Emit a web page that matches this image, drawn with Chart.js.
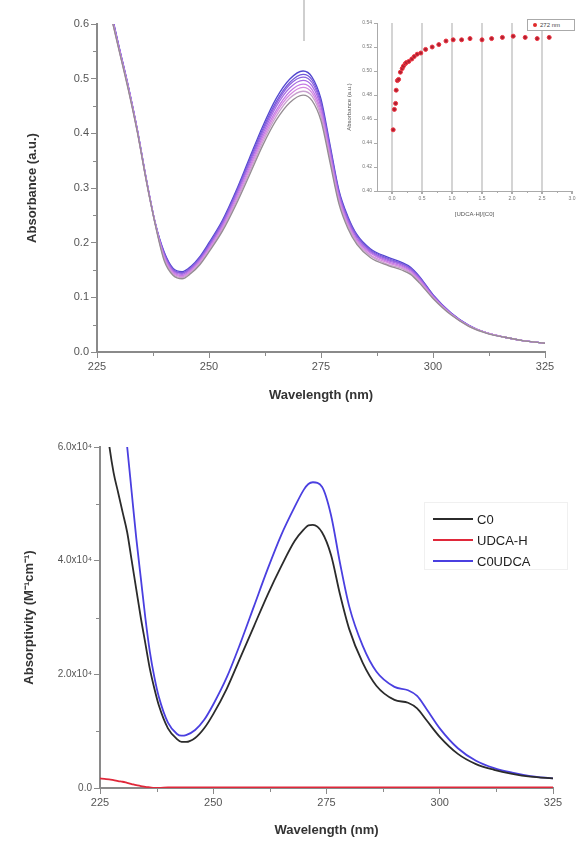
<!DOCTYPE html>
<html><head><meta charset="utf-8">
<script src="https://cdn.jsdelivr.net/npm/chart.js@4"></script>
<style>
body{margin:0;background:#fff;width:578px;height:842px;position:relative;overflow:hidden;font-family:"Liberation Sans",Arial,sans-serif}
.abs{position:absolute}
</style></head>
<body>
<div class="abs" style="left:303px;top:0;width:2px;height:41px;background:#cfcfcf"></div>
<canvas id="top" class="abs" style="left:0;top:0" width="578" height="410"></canvas>
<canvas id="inset" class="abs" style="left:330px;top:0" width="248" height="225"></canvas>
<div class="abs" style="left:527px;top:19px;width:46px;height:10px;border:1px solid #aaa;background:#fff;font-size:6px;line-height:10px;color:#444">
  <span style="display:inline-block;width:4px;height:4px;border-radius:50%;background:#e02a2a;margin:0 3px 0 5px;vertical-align:middle"></span>272 nm
</div>
<canvas id="bottom" class="abs" style="left:0;top:420px" width="578" height="422"></canvas>
<div id="legend" class="abs" style="left:424px;top:502px;width:142px;height:66px;border:1px solid #f0f0f0"></div>
<script>
// ---------- Top chart: titration spectra ----------
const wavelengthTop = [227,228,229,230,232,234,236,238,240,242,244,246,248,250,253,256,259,262,265,268,271,273,275,277,279,281,283,286,290,293,295,297,300,304,308,312,316,320,325];
const absCurve1 = [0.665,0.620,0.584,0.549,0.479,0.402,0.313,0.233,0.167,0.140,0.134,0.144,0.160,0.183,0.221,0.269,0.323,0.378,0.424,0.456,0.470,0.460,0.423,0.347,0.271,0.226,0.197,0.173,0.158,0.150,0.142,0.126,0.098,0.068,0.047,0.034,0.027,0.021,0.016];
const absCurve2 = [0.667,0.622,0.585,0.550,0.481,0.403,0.313,0.234,0.170,0.142,0.136,0.146,0.162,0.185,0.224,0.273,0.328,0.384,0.431,0.464,0.477,0.468,0.430,0.353,0.275,0.230,0.200,0.176,0.160,0.153,0.144,0.128,0.099,0.069,0.047,0.035,0.027,0.021,0.016];
const absCurve3 = [0.668,0.623,0.586,0.551,0.482,0.404,0.314,0.234,0.172,0.144,0.138,0.148,0.165,0.188,0.227,0.277,0.333,0.389,0.437,0.470,0.484,0.474,0.436,0.358,0.279,0.233,0.203,0.178,0.163,0.155,0.146,0.130,0.100,0.069,0.048,0.035,0.027,0.021,0.016];
const absCurve4 = [0.669,0.624,0.587,0.552,0.482,0.404,0.315,0.235,0.175,0.146,0.140,0.150,0.167,0.190,0.230,0.281,0.337,0.394,0.442,0.476,0.490,0.480,0.441,0.362,0.283,0.236,0.205,0.181,0.165,0.157,0.148,0.132,0.101,0.070,0.048,0.035,0.027,0.021,0.016];
const absCurve5 = [0.671,0.626,0.589,0.554,0.484,0.405,0.315,0.235,0.177,0.148,0.142,0.152,0.169,0.193,0.233,0.285,0.342,0.399,0.449,0.483,0.497,0.487,0.448,0.367,0.287,0.239,0.208,0.183,0.167,0.159,0.150,0.134,0.102,0.070,0.048,0.035,0.027,0.021,0.016];
const absCurve6 = [0.672,0.627,0.590,0.554,0.484,0.406,0.316,0.236,0.179,0.150,0.144,0.154,0.171,0.195,0.236,0.288,0.346,0.404,0.454,0.489,0.503,0.493,0.453,0.372,0.290,0.242,0.211,0.185,0.169,0.161,0.152,0.135,0.103,0.071,0.048,0.035,0.027,0.021,0.016];
const absCurve7 = [0.673,0.628,0.590,0.555,0.485,0.407,0.316,0.236,0.181,0.151,0.145,0.155,0.173,0.197,0.238,0.291,0.350,0.408,0.458,0.493,0.508,0.498,0.457,0.375,0.293,0.245,0.213,0.187,0.171,0.162,0.153,0.137,0.104,0.071,0.049,0.035,0.027,0.021,0.016];
const absCurve8 = [0.674,0.629,0.592,0.556,0.486,0.407,0.317,0.236,0.183,0.153,0.147,0.157,0.175,0.200,0.241,0.294,0.354,0.413,0.464,0.499,0.514,0.503,0.463,0.380,0.296,0.248,0.215,0.189,0.173,0.164,0.155,0.138,0.105,0.072,0.049,0.035,0.027,0.021,0.016];
const topCurves = [absCurve1,absCurve2,absCurve3,absCurve4,absCurve5,absCurve6,absCurve7,absCurve8];
const topColors = ['#958c93','#c9a0cf','#d68ae0','#c47ae6','#a86de3','#8e63df','#7358da','#5247cf'];
const topYTicks = [0,0.1,0.2,0.3,0.4,0.5,0.6];
const topYMinor = [0.05,0.15,0.25,0.35,0.45,0.55];
const xTicksNm = [225,250,275,300,325];
const xMinorNm = [237.5,262.5,287.5,312.5];

// ---------- Inset: absorbance at 272 nm vs ratio ----------
const ratio = [0.02,0.04,0.06,0.07,0.09,0.11,0.14,0.17,0.19,0.22,0.24,0.28,0.33,0.37,0.42,0.48,0.56,0.67,0.78,0.90,1.02,1.16,1.30,1.50,1.66,1.84,2.02,2.22,2.42,2.62];
const abs272 = [0.451,0.468,0.473,0.484,0.492,0.493,0.499,0.502,0.504,0.506,0.507,0.508,0.510,0.512,0.514,0.515,0.518,0.520,0.522,0.525,0.526,0.526,0.527,0.526,0.527,0.528,0.529,0.528,0.527,0.528];
const insetXTicks = [0,0.5,1.0,1.5,2.0,2.5,3.0];
const insetYTicks = [0.40,0.42,0.44,0.46,0.48,0.50,0.52,0.54];

// ---------- Bottom chart: molar absorptivity ----------
const wavelengthBottom = [225,226,227,228,229,230,231,232,233,234,235,236,237,238,240,242,243,244,246,248,250,253,256,259,262,265,268,270,271,272,274,276,278,280,283,286,290,293,295,297,300,304,308,312,316,320,325];
const epsC0 = [76000,67000,60500,55500,52000,48500,45000,40000,35000,30000,25500,21000,17500,14500,10500,8600,8100,8100,8800,10500,13000,17500,23000,28500,34000,39000,43500,45500,46200,46300,45000,41000,34000,28000,22000,18000,15500,15000,14000,12000,9000,6000,4200,3200,2500,2000,1700];
const epsUDCA = [1700,1600,1500,1400,1200,1100,900,700,500,350,200,100,0,0,100,100,100,100,100,100,100,100,100,100,100,100,100,100,100,100,100,100,100,100,100,100,100,100,100,100,100,100,100,100,100,100,100];
const epsC0UDCA = [110000,100000,90000,82000,74000,67000,60000,52000,44000,37000,30000,24000,19500,16000,11500,9500,9200,9300,10200,12000,14700,19500,25500,32000,38500,44500,49500,52500,53500,53800,53000,48000,39500,32000,25000,20500,17800,17200,16200,14000,10500,7000,4800,3500,2700,2100,1700];
const bottomSeries = ['C0','UDCA-H','C0UDCA'];
const bottomColors = ['#2b2b2b','#e0283a','#4a3fe0'];
const bottomYTicks = [0,20000,40000,60000];
const bottomYMinor = [10000,30000,50000];

const FONT = '"Liberation Sans", Arial, sans-serif';
const minorTicks = {
  id:'minorTicks',
  afterDraw(chart, args, o){
    if(!o || !o.len) return;
    const ctx = chart.ctx, xs = chart.scales.x, ys = chart.scales.y;
    ctx.save(); ctx.strokeStyle = o.color; ctx.lineWidth = o.width || 1;
    (o.x||[]).forEach(v=>{const p=Math.round(xs.getPixelForValue(v))+0.5; ctx.beginPath(); ctx.moveTo(p, ys.bottom); ctx.lineTo(p, ys.bottom+o.len); ctx.stroke();});
    (o.y||[]).forEach(v=>{const p=Math.round(ys.getPixelForValue(v))+0.5; ctx.beginPath(); ctx.moveTo(xs.left, p); ctx.lineTo(xs.left-o.len, p); ctx.stroke();});
    ctx.restore();
  }
};
Chart.register(minorTicks);

function axisCommon(color, width, tickLen){
  return {
    border:{display:true,color:color,width:width},
    grid:{display:true,drawOnChartArea:false,drawTicks:true,tickLength:tickLen,color:color,lineWidth:1}
  };
}
const pts = (xs, ys) => xs.map((x,i)=>({x:x,y:ys[i]}));

// Top chart
new Chart(document.getElementById('top'), {
  type:'line',
  data:{datasets: topCurves.map((c,i)=>({data:pts(wavelengthTop,c),borderColor:topColors[i],borderWidth:1.3,pointRadius:0,cubicInterpolationMode:'monotone',fill:false}))},
  options:{
    responsive:false,animation:false,devicePixelRatio:1,
    layout:{padding:{top:24,right:33,left:0,bottom:0}},
    plugins:{legend:{display:false},tooltip:{enabled:false},
      minorTicks:{len:4,color:'#8a8a8a',x:xMinorNm,y:topYMinor}},
    scales:{
      x:Object.assign(axisCommon('#8a8a8a',2,6),{type:'linear',min:225,max:325,
        afterBuildTicks:s=>{s.ticks=xTicksNm.map(v=>({value:v}));},
        afterFit:s=>{s.height=58;},
        ticks:{color:'#555',font:{family:FONT,size:11},padding:2,maxRotation:0,callback:v=>String(v)},
        title:{display:true,text:'Wavelength (nm)',color:'#333',font:{family:FONT,size:13,weight:'bold'},padding:{top:0,bottom:7}}}),
      y:Object.assign(axisCommon('#8a8a8a',2,6),{type:'linear',min:0,max:0.6,
        afterBuildTicks:s=>{s.ticks=topYTicks.map(v=>({value:v}));},
        afterFit:s=>{s.width=97;},
        ticks:{color:'#555',font:{family:FONT,size:11},padding:2,callback:v=>v.toFixed(1)},
        title:{display:true,text:'Absorbance (a.u.)',color:'#333',font:{family:FONT,size:13,weight:'bold'},padding:{top:25,bottom:0}}})
    }
  }
});

// Inset
new Chart(document.getElementById('inset'), {
  type:'line',
  data:{datasets:[{label:'272 nm',data:pts(ratio,abs272),showLine:false,pointRadius:2,pointBackgroundColor:'#b02030',pointBorderColor:'#ee3340',pointBorderWidth:1}]},
  options:{
    responsive:false,animation:false,devicePixelRatio:1,
    layout:{padding:{top:23,right:6,left:0,bottom:0}},
    plugins:{legend:{display:false},tooltip:{enabled:false},
      minorTicks:{len:2,color:'#aaa',x:[0.25,0.75,1.25,1.75,2.25,2.75],y:[]}},
    scales:{
      x:{type:'linear',min:-0.25,max:3.0,
        border:{display:true,color:'#aaa',width:1},
        grid:{display:true,drawOnChartArea:true,drawTicks:true,tickLength:3,
          color:c=> (c.tick && c.tick.value>=2.9) ? 'rgba(0,0,0,0)' : '#d4d4d4', lineWidth:2, tickColor:'#aaa'},
        afterBuildTicks:s=>{s.ticks=insetXTicks.map(v=>({value:v}));},
        afterFit:s=>{s.height=34;},
        ticks:{color:'#777',font:{family:FONT,size:5},padding:2,maxRotation:0,callback:v=>v.toFixed(1)},
        title:{display:true,text:'[UDCA-H]/[C0]',color:'#555',font:{family:FONT,size:6},padding:{top:0,bottom:7}}},
      y:{type:'linear',min:0.40,max:0.54,
        border:{display:true,color:'#aaa',width:1},
        grid:{display:true,drawOnChartArea:false,drawTicks:true,tickLength:3,color:'#aaa'},
        afterBuildTicks:s=>{s.ticks=insetYTicks.map(v=>({value:v}));},
        afterFit:s=>{s.width=47;},
        ticks:{color:'#777',font:{family:FONT,size:5},padding:2,callback:v=>v.toFixed(2)},
        title:{display:true,text:'Absorbance (a.u.)',color:'#555',font:{family:FONT,size:6},padding:{top:16,bottom:0}}}
    }
  }
});

// Bottom chart
const bottomData = [epsC0, epsUDCA, epsC0UDCA];
new Chart(document.getElementById('bottom'), {
  type:'line',
  data:{datasets: bottomData.map((d,i)=>({label:bottomSeries[i],data:pts(wavelengthBottom,d),borderColor:bottomColors[i],borderWidth:1.8,pointRadius:0,cubicInterpolationMode:'monotone',fill:false}))},
  options:{
    responsive:false,animation:false,devicePixelRatio:1,
    layout:{padding:{top:27,right:25,left:0,bottom:0}},
    plugins:{legend:{display:false},tooltip:{enabled:false},
      minorTicks:{len:4,color:'#8a8a8a',x:xMinorNm,y:bottomYMinor}},
    scales:{
      x:Object.assign(axisCommon('#8a8a8a',2,6),{type:'linear',min:225,max:325,
        afterBuildTicks:s=>{s.ticks=xTicksNm.map(v=>({value:v}));},
        afterFit:s=>{s.height=54;},
        ticks:{color:'#555',font:{family:FONT,size:11},padding:2,maxRotation:0,callback:v=>String(v)},
        title:{display:true,text:'Wavelength (nm)',color:'#333',font:{family:FONT,size:13,weight:'bold'},padding:{top:0,bottom:4}}}),
      y:Object.assign(axisCommon('#8a8a8a',2,6),{type:'linear',min:0,max:60000,
        afterBuildTicks:s=>{s.ticks=bottomYTicks.map(v=>({value:v}));},
        afterFit:s=>{s.width=100;},
        ticks:{color:'#555',font:{family:FONT,size:10},padding:2,callback:v=> v===0 ? '0.0' : (v/10000).toFixed(1)+'x10\u2074'},
        title:{display:true,text:'Absorptivity (M\u207B\u00B9cm\u207B\u00B9)',color:'#333',font:{family:FONT,size:13,weight:'bold'},padding:{top:22,bottom:0}}})
    }
  }
});

// HTML legend for bottom chart
const lg = document.getElementById('legend');
bottomSeries.forEach((name,i)=>{
  const row = document.createElement('div');
  row.style.cssText = 'position:absolute;left:8px;top:'+(8+i*21)+'px;height:16px;display:flex;align-items:center;font-size:13px;color:#222';
  row.innerHTML = '<span style="display:inline-block;width:40px;height:2px;background:'+bottomColors[i]+';margin-right:4px"></span>'+name;
  lg.appendChild(row);
});
</script>
</body></html>
